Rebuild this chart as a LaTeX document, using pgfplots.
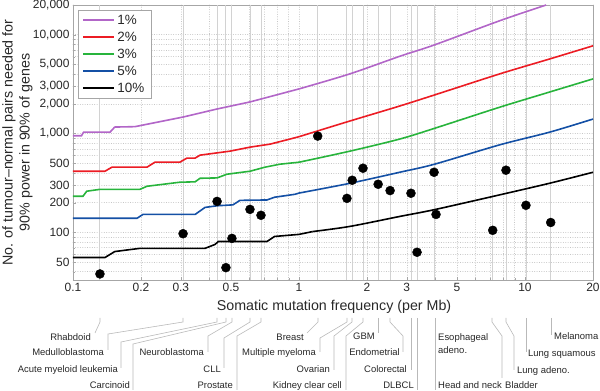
\documentclass[border=0pt]{standalone}
\usepackage{pgfplots}
\pgfplotsset{compat=1.18}
\usepackage{fontspec}
\setmainfont{Liberation Sans}
\definecolor{cpurple}{RGB}{178,102,200}
\definecolor{cred}{RGB}{236,28,36}
\definecolor{cgreen}{RGB}{40,180,60}
\definecolor{cblue}{RGB}{20,80,165}
\definecolor{vline}{RGB}{210,210,210}
\definecolor{conn}{RGB}{185,185,185}
\definecolor{txt}{RGB}{40,40,40}
\newcommand{\lbl}{\fontsize{9.5}{11}\selectfont}
\begin{document}
\begin{tikzpicture}
\useasboundingbox (-73bp,-111bp) rectangle (527bp,280bp);
\begin{axis}[
  at={(0,0)}, anchor=south west,
  scale only axis, width=520bp, height=275bp,
  xmode=log, ymode=log,
  xmin=0.1, xmax=20, ymin=33, ymax=20000,
  xtick={0.1,0.2,0.3,0.5,1,2,3,5,10,20},
  xticklabels={0.1,0.2,0.3,0.5,1,2,3,5,10,20},
  ytick={50,100,200,300,500,1000,2000,3000,5000,10000,20000},
  yticklabels={50,100,200,300,500,{1,000},{2,000},{3,000},{5,000},{10,000},{20,000}},
  minor xtick={0.4,0.6,0.7,0.8,0.9,4,6,7,8,9},
  minor ytick={40,60,70,80,90,400,600,700,800,900,4000,6000,7000,8000,9000},
  grid=both,
  major grid style={dotted, line cap=round, line width=0.6bp, gray!45},
  minor grid style={dotted, line cap=round, line width=0.6bp, gray!45},
  xtick pos=bottom, ytick pos=left,
  major tick length=3bp, minor tick length=2bp,
  tick style={gray!70},
  axis line style={gray!70},
  ticklabel style={font=\fontsize{12}{14}\selectfont, text=txt},
  /pgf/number format/assume math mode=true,
  xlabel={Somatic mutation frequency (per Mb)},
  xlabel style={font=\fontsize{14.3}{17}\selectfont, text=txt, at={(axis description cs:0.502,-0.0982)}, anchor=center},
  ylabel={No. of tumour–normal pairs needed for\\90\% power in 90\% of genes},
  ylabel style={align=center, font=\fontsize{14.3}{17}\selectfont, text=txt, at={(axis description cs:-0.1067,0.5)}, anchor=center},
  legend style={at={(axis description cs:0.0096,0.9818)}, anchor=north west, draw=gray!70,
     font=\fontsize{13.5}{15}\selectfont, inner xsep=4bp, inner ysep=2bp, row sep=1.2bp,
     nodes={inner sep=2.5bp, text=txt}},
  legend cell align=left,
  legend image code/.code={\draw[#1, line width=1.8bp] (0bp,0bp) -- (31bp,0bp);},
]
\pgfplotsinvokeforeach{0.1316,0.307,0.434,0.475,0.505,0.607,0.679,1.21,1.63,1.72,1.92,2.24,2.53,3.13,3.33,3.98,7.2,8.24,10.1,13.0}{
  \addplot[vline, line width=0.9bp, forget plot] coordinates {(#1,33) (#1,20000)};
}
% 1%
\addplot[cpurple, line width=1.6bp] coordinates {(0.1,950) (0.109,950) (0.1115,1036) (0.146,1036) (0.153,1164) (0.188,1175) (0.226,1278) (0.307,1470) (0.434,1773) (0.607,2090) (1.0,2830)};
\addlegendentry{1\%}
\addplot[cpurple, line width=1.6bp, smooth, forget plot] coordinates {(1.0,2830) (1.68,4020) (2.79,6050) (3.98,7900) (7.74,13870) (12.4,20000)};
% 2%
\addplot[cred, line width=1.6bp] coordinates {(0.1,416) (0.1385,416) (0.1487,457) (0.2125,457) (0.2306,514) (0.2972,514) (0.319,564) (0.3467,564) (0.365,605) (0.495,664) (0.607,729) (0.745,782) (0.91,879) (1.0,930)};
\addlegendentry{2\%}
\addplot[cred, line width=1.6bp, smooth, forget plot] coordinates {(1.0,930) (1.68,1340) (2.79,1900) (3.98,2460) (7.74,4020) (12.9,5700) (20,7730)};
% 3%
\addplot[cgreen, line width=1.6bp] coordinates {(0.1,232) (0.1107,232) (0.115,261) (0.132,273) (0.198,273) (0.2125,293) (0.297,322) (0.347,325) (0.365,353) (0.434,356) (0.48,388) (0.607,416) (0.707,457) (0.823,490) (1.0,513)};
\addlegendentry{3\%}
\addplot[cgreen, line width=1.6bp, smooth, forget plot] coordinates {(1.0,513) (1.68,664) (2.79,880) (3.98,1130) (7.74,1850) (12.9,2640) (20,3575)};
% 5%
\addplot[cblue, line width=1.6bp] coordinates {(0.1,139) (0.192,139) (0.204,152) (0.347,152) (0.384,179) (0.434,186) (0.51,190) (0.548,211) (0.722,213) (0.78,227) (0.96,243) (1.0,250)};
\addlegendentry{5\%}
\addplot[cblue, line width=1.6bp, smooth, forget plot] coordinates {(1.0,250) (1.68,314) (2.79,406) (3.98,490) (7.74,770) (12.9,1036) (20,1403)};
% 10%
\addplot[black, line width=1.6bp] coordinates {(0.1,55.7) (0.1385,55.7) (0.153,64) (0.1787,67) (0.198,69) (0.384,69) (0.425,75.5) (0.44,81) (0.722,81) (0.78,91) (1.0,95.5) (1.15,102)};
\addlegendentry{10\%}
\addplot[black, line width=1.6bp, smooth, forget plot] coordinates {(1.15,102) (1.68,115) (2.79,145) (3.98,170) (7.74,240) (12.9,315) (20,406)};
% tumour types
\addplot[only marks, mark=*, mark size=4.5bp, black, line width=0.4bp, forget plot] coordinates {
 (0.1316,38) (0.307,97) (0.434,206) (0.475,44) (0.505,87) (0.607,171) (0.679,149)
 (1.21,943) (1.63,221) (1.72,337) (1.92,446) (2.24,307) (2.53,265) (3.13,249) (3.33,63)
 (3.96,406) (4.04,152) (7.2,105) (8.24,426) (10.1,188) (13.0,126)};
\end{axis}
\begin{scope}[shift={(-73bp,280bp)}, x=1bp, y=-1bp]
\begin{scope}[conn, line width=0.6bp]
\draw (100,318)--(100,322)--(95,333);
\draw (183,318)--(183,322)--(108,334)--(108,350);
\draw (217,318)--(217,322)--(121,342)--(121,368);
\draw (226,318)--(226,322)--(133,344)--(133,390);
\draw (232,318)--(232,322)--(208,336)--(208,352);
\draw (250,318)--(250,322)--(224,338)--(224,368);
\draw (261,318)--(261,322)--(237,336)--(237,390);
\draw (318,318)--(318,322)--(307,333);
\draw (347,318)--(347,322)--(320,338)--(320,352);
\draw (352,318)--(352,322)--(334,336)--(334,370);
\draw (363,318)--(363,322)--(346,336)--(346,390);
\draw (378,318)--(378,333);
\draw (390,318)--(390,322)--(403,336)--(403,352);
\draw (411,318)--(411,370);
\draw (417,318)--(417,390);
\draw (435,318)--(435,390);
\draw (492,318)--(492,322)--(502,336)--(502,378);
\draw (506,318)--(506,322)--(514,336)--(514,370);
\draw (526,318)--(526,352);
\draw (551,318)--(551,335);
\end{scope}
\begin{scope}[every node/.style={inner sep=0pt, font=\lbl, text=txt}]
\node[anchor=mid east] at (91,338) {Rhabdoid};
\node[anchor=mid east] at (104,353) {Medulloblastoma};
\node[anchor=mid east] at (118,370) {Acute myeloid leukemia};
\node[anchor=mid east] at (130,386) {Carcinoid};
\node[anchor=mid east] at (204,353) {Neuroblastoma};
\node[anchor=mid east] at (221,370) {CLL};
\node[anchor=mid east] at (233,386) {Prostate};
\node[anchor=mid east] at (304,338) {Breast};
\node[anchor=mid east] at (316,353) {Multiple myeloma};
\node[anchor=mid east] at (330,370) {Ovarian};
\node[anchor=mid east] at (342,386) {Kidney clear cell};
\node[anchor=mid east] at (375,337) {GBM};
\node[anchor=mid east] at (400,353) {Endometrial};
\node[anchor=mid east] at (407,370) {Colorectal};
\node[anchor=mid east] at (414,386) {DLBCL};
\node[anchor=mid west] at (438,338) {Esophageal};
\node[anchor=mid west] at (438,351) {adeno.};
\node[anchor=mid west] at (438,386) {Head and neck};
\node[anchor=mid west] at (505,386) {Bladder};
\node[anchor=mid west] at (517,371) {Lung adeno.};
\node[anchor=mid west] at (528,354) {Lung squamous};
\node[anchor=mid west] at (554,337) {Melanoma};
\end{scope}
\end{scope}
\end{tikzpicture}
\end{document}
